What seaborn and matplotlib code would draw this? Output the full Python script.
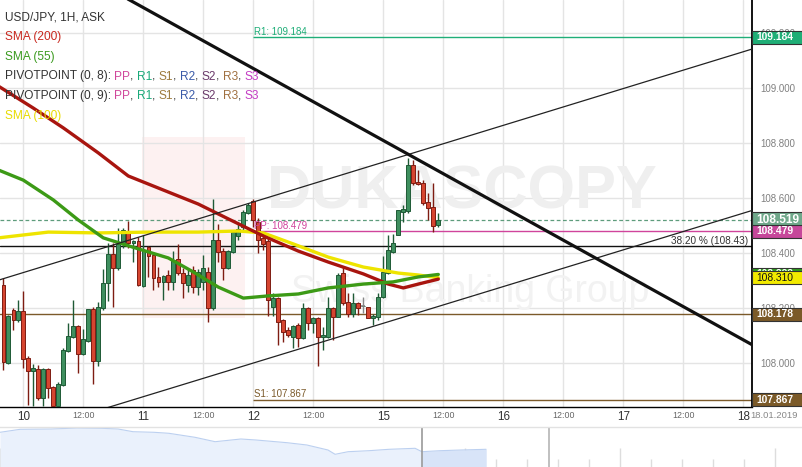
import numpy as np
import seaborn as sns
import matplotlib.pyplot as plt
from matplotlib.patches import Rectangle
from matplotlib.transforms import blended_transform_factory
from matplotlib.ticker import MultipleLocator

# --- Data: USD/JPY 1H candles (bar 0 = first visible bar) ---
bar_open = [108.284, 108.000, 108.193, 108.156, 108.189, 108.018, 107.971, 107.978, 107.873, 107.978,
            107.913, 107.844, 107.920, 108.044, 108.095, 108.135, 108.033, 108.080, 108.196, 108.007,
            108.200, 108.291, 108.396, 108.345, 108.436, 108.480, 108.436, 108.444, 108.280, 108.422,
            108.393, 108.313, 108.295, 108.320, 108.295, 108.378, 108.327, 108.284, 108.338, 108.276,
            108.295, 108.331, 108.200, 108.447, 108.407, 108.345, 108.404, 108.462, 108.495, 108.545,
            108.589, 108.513, 108.455, 108.444, 108.204, 108.236, 108.156, 108.120, 108.095, 108.138,
            108.091, 108.200, 108.145, 108.164, 108.095, 108.095, 108.200, 108.167, 108.327, 108.222,
            108.178, 108.218, 108.207, 108.204, 108.164, 108.167, 108.240, 108.327, 108.404, 108.465,
            108.549, 108.553, 108.720, 108.658, 108.655, 108.585, 108.567, 108.502]
bar_high = [108.309, 108.175, 108.200, 108.229, 108.262, 108.025, 107.996, 107.993, 107.982, 107.982,
            107.916, 107.931, 108.055, 108.145, 108.229, 108.138, 108.124, 108.196, 108.204, 108.222,
            108.342, 108.436, 108.436, 108.491, 108.491, 108.516, 108.447, 108.458, 108.465, 108.425,
            108.396, 108.349, 108.320, 108.338, 108.407, 108.433, 108.345, 108.342, 108.353, 108.342,
            108.393, 108.349, 108.596, 108.505, 108.418, 108.411, 108.484, 108.513, 108.556, 108.582,
            108.596, 108.527, 108.473, 108.455, 108.255, 108.240, 108.160, 108.131, 108.138, 108.145,
            108.218, 108.204, 108.167, 108.167, 108.131, 108.240, 108.204, 108.327, 108.353, 108.255,
            108.255, 108.222, 108.240, 108.204, 108.178, 108.255, 108.389, 108.465, 108.469, 108.556,
            108.575, 108.745, 108.738, 108.702, 108.665, 108.618, 108.655, 108.545]
bar_low = [107.975, 107.996, 108.120, 108.149, 107.982, 107.847, 107.844, 107.865, 107.844, 107.873,
           107.822, 107.836, 107.916, 108.040, 108.091, 107.964, 108.029, 108.076, 107.924, 107.989,
           108.193, 108.225, 108.204, 108.338, 108.418, 108.418, 108.367, 108.280, 108.276, 108.313,
           108.265, 108.276, 108.229, 108.265, 108.265, 108.320, 108.236, 108.258, 108.255, 108.247,
           108.265, 108.149, 108.193, 108.367, 108.302, 108.342, 108.400, 108.447, 108.484, 108.542,
           108.495, 108.400, 108.411, 108.171, 108.171, 108.065, 108.076, 108.095, 108.055, 108.058,
           108.087, 108.120, 108.109, 107.989, 108.047, 108.091, 108.084, 108.167, 108.211, 108.167,
           108.167, 108.175, 108.182, 108.164, 108.138, 108.156, 108.236, 108.324, 108.400, 108.465,
           108.513, 108.545, 108.647, 108.647, 108.575, 108.520, 108.476, 108.495]
bar_close = [108.004, 108.171, 108.156, 108.189, 108.015, 107.971, 107.982, 107.873, 107.978, 107.909,
             107.844, 107.924, 108.047, 108.098, 108.135, 108.033, 108.087, 108.196, 108.007, 108.204,
             108.291, 108.396, 108.345, 108.433, 108.484, 108.436, 108.444, 108.284, 108.411, 108.389,
             108.309, 108.295, 108.316, 108.295, 108.375, 108.327, 108.291, 108.320, 108.276, 108.331,
             108.345, 108.200, 108.447, 108.404, 108.345, 108.407, 108.476, 108.487, 108.549, 108.575,
             108.520, 108.447, 108.433, 108.229, 108.236, 108.149, 108.113, 108.102, 108.135, 108.091,
             108.200, 108.145, 108.164, 108.095, 108.102, 108.200, 108.167, 108.320, 108.218, 108.178,
             108.218, 108.200, 108.207, 108.164, 108.171, 108.240, 108.331, 108.411, 108.436, 108.556,
             108.560, 108.720, 108.655, 108.651, 108.582, 108.564, 108.498, 108.519]

# moving averages, read at a few bars
sma200_bar = [-1, 6, 12, 19, 25, 32, 39, 45, 52, 59, 65, 72, 77, 80, 83, 87]
sma200 = [109.007, 108.927, 108.855, 108.764, 108.680, 108.629, 108.578, 108.524, 108.462,
          108.407, 108.367, 108.324, 108.287, 108.273, 108.287, 108.305]
sma55_bar = [-1, 4, 10, 15, 20, 27, 33, 38, 43, 48, 53, 59, 65, 72, 78, 83, 87]
sma55 = [108.702, 108.665, 108.593, 108.520, 108.455, 108.415, 108.382, 108.331, 108.276,
         108.236, 108.244, 108.251, 108.273, 108.287, 108.295, 108.313, 108.322]
sma100_bar = [-1, 9, 19, 29, 39, 47, 52, 58, 65, 72, 79, 83, 87]
sma100 = [108.455, 108.476, 108.473, 108.476, 108.476, 108.480, 108.473, 108.433, 108.385,
          108.349, 108.327, 108.320, 108.310]

# drawn trend lines (bar, price)
trend_bar = [20, 150]
trend_price = [109.373, 108.064]
chan_up_bar = [-1, 150]
chan_up_price = [108.301, 109.143]
chan_lo_bar = [20, 150]
chan_lo_price = [107.833, 108.556]

# levels
pivot_names = ['R1', 'PP', 'S1']
pivot_values = [109.184, 108.479, 107.867]
pivot_start_bar = 50
prev_s1 = 108.178
fib_level = 108.424
fib_text = '38.20 % (108.43)'
last_price = 108.519
sma55_last = 108.322
sma100_last = 108.310

# time axis
tick_bar = [4, 16, 28, 40, 50, 62, 76, 88, 100, 112, 124, 136, 148]
tick_labels = ['10', '12:00', '11', '12:00', '12', '12:00', '15', '12:00', '16', '12:00', '17', '12:00', '18']
date_text = '18.01.2019'
price_ticks = [108.0, 108.2, 108.4, 108.6, 108.8, 109.0, 109.2]

# navigator overview (days, relative level)
nav_day = [0, 0.65, 1.65, 2.48, 3.29, 3.81, 4.29, 4.97, 5.45, 6.29, 6.94, 7.77, 8.26, 9.26, 9.90,
           10.58, 10.81, 11.23, 11.90, 12.55, 13.39, 13.61, 14.19, 14.87, 15.68]
nav_val = [34.7, 37.7, 38.0, 39.0, 38.7, 38.0, 35.3, 34.7, 33.7, 29.7, 25.3, 28.0, 27.0, 24.3, 22.0,
           17.0, 12.7, 15.3, 16.3, 17.7, 18.7, 15.3, 16.3, 17.0, 17.7]
nav_sel_start = 13.61
nav_window_end = 17.71

# --- Style ---
sns.set_theme(style="white")
plt.rcParams['font.family'] = ['Liberation Sans', 'DejaVu Sans']

W, H = 803, 467
fig = plt.figure(figsize=(W / 100, H / 100), dpi=100)
ax = fig.add_axes([0, 60 / H, 752 / W, 407 / H])
ax.set_xlim(-0.66, 149.74)
ax.set_ylim(107.84, 109.32)

# watermark
ax.add_patch(Rectangle((142 / 752, 1 - 318 / 407), 103 / 752, 181 / 407, transform=ax.transAxes,
                       color='#fdf1f1', zorder=0.5, lw=0))
ax.text(462 / 752, 1 - 193 / 407, 'DUKASCOPY', transform=ax.transAxes, ha='center', va='center',
        fontsize=44, fontweight='bold', color='#efefef', zorder=0.6)
ax.text(470 / 752, 1 - 292 / 407, 'Swiss Banking Group', transform=ax.transAxes, ha='center',
        va='center', fontsize=27, color='#f2f2f2', zorder=0.6)

# grid
ax.set_xticks(tick_bar, tick_labels)
ax.set_yticks(price_ticks)
ax.grid(True, color='#e4e4e4', lw=1)
ax.set_axisbelow(True)

# horizontal levels
ax.axhline(prev_s1, color='#7b5a2a', lw=1, zorder=2)
ax.axhline(fib_level, color='#111111', lw=1, zorder=2)
ax.axhline(last_price, color='#5e9c7c', lw=0.9, ls=(0, (3, 2)), zorder=2)
pivot_colors = ['#1fae78', '#d0449c', '#7b5a2a']
ax.hlines(pivot_values, pivot_start_bar, 149.74, colors=pivot_colors, lw=1, zorder=2)
for name, val, col in zip(pivot_names, pivot_values, pivot_colors):
    ax.text(pivot_start_bar + 0.1, val + 0.002, f'{name}: {val:.3f}', color=col, fontsize=7,
            ha='left', va='bottom', zorder=8)
ax.text(148.9, fib_level + 0.003, fib_text, color='#333333', fontsize=7.2, ha='right', va='bottom', zorder=8)

# candles
o = np.array(bar_open); hi = np.array(bar_high); lo = np.array(bar_low); c = np.array(bar_close)
bars = np.arange(len(o))
up = c >= o
wick_col = np.where(c > o, '#1f5a36', np.where(c < o, '#7e1c12', '#888888'))
fill_col = np.where(up, '#3f8f5f', '#d64530')
edge_col = np.where(up, '#1f5a36', '#7e1c12')
ax.vlines(bars, lo, hi, colors=wick_col, lw=1, zorder=3)
ax.bar(bars, np.abs(c - o), bottom=np.minimum(o, c), width=0.72, color=fill_col,
       edgecolor=edge_col, linewidth=0.7, zorder=4)
flat = c == o
ax.hlines(c[flat], bars[flat] - 0.36, bars[flat] + 0.36, colors='#888888', lw=1.2, zorder=4)

# moving averages
sns.lineplot(x=sma100_bar, y=sma100, ax=ax, color='#eee400', lw=2.4, zorder=5)
sns.lineplot(x=sma200_bar, y=sma200, ax=ax, color='#a8150f', lw=2.4, zorder=5)
sns.lineplot(x=sma55_bar, y=sma55, ax=ax, color='#3c9a16', lw=2.4, zorder=5)

# trend lines
ax.plot(chan_up_bar, chan_up_price, color='#222222', lw=0.9, zorder=6)
ax.plot(chan_lo_bar, chan_lo_price, color='#222222', lw=0.9, zorder=6)
ax.plot(trend_bar, trend_price, color='#111111', lw=2.3, zorder=6)

# axes styling
for s in ['left', 'top']:
    ax.spines[s].set_visible(False)
ax.spines['right'].set_color('black'); ax.spines['right'].set_linewidth(1.3)
ax.spines['bottom'].set_color('black'); ax.spines['bottom'].set_linewidth(1.0)
ax.yaxis.tick_right()
ax.yaxis.set_major_formatter('{x:.3f}')
ax.tick_params(axis='y', length=0, pad=6, labelsize=7, labelcolor='#808080')
ax.tick_params(axis='x', length=0, pad=3)
for lab in ax.get_xticklabels():
    if ':' in lab.get_text():
        lab.set_fontsize(6.4); lab.set_color('#666666')
    else:
        lab.set_fontsize(8.4); lab.set_color('#333333')
fig.text(774 / W, 1 - 416 / H, date_text, ha='center', va='center', fontsize=6.8, color='#888888')

# price boxes on the right axis
tr = blended_transform_factory(ax.transAxes, ax.transData)
boxes = [
    (pivot_values[0], '#1fae76', 'white', 7.4, 0.0236),
    (last_price, '#6fa88a', 'white', 8.6, 0.029),
    (pivot_values[1], '#c6479a', 'white', 7.4, 0.0236),
    (sma55_last, '#2f9a1e', 'white', 7.4, 0.0236),
    (sma100_last, '#f2ea00', '#111111', 7.4, 0.0236),
    (prev_s1, '#7b5a28', 'white', 7.4, 0.0236),
    (pivot_values[2], '#7b5a28', 'white', 7.4, 0.0236),
]
for i, (val, fc, tc, fs, hh) in enumerate(boxes):
    ax.add_patch(Rectangle((1.0, val - hh), 51 / 752, 2 * hh, transform=tr, fc=fc, ec='#333333',
                           lw=0.8, clip_on=False, zorder=10 + i))
    ax.text(756 / 752, val, f'{val:.3f}', transform=tr, ha='left', va='center', fontsize=fs,
            color=tc, fontweight='bold' if tc == 'white' else 'normal', zorder=10.5 + i, clip_on=False)

# legend text block (top-left)
renderer = fig.canvas.get_renderer()


def put_pieces(x_px, base_px, pieces, size=8.6):
    for text, color, gap in pieces:
        t = fig.text(x_px / W, 1 - base_px / H, text, color=color, fontsize=size, ha='left', va='baseline')
        bb = t.get_window_extent(renderer=renderer)
        x_px = bb.x1 + gap


sp = 3.3
pp_names = ['PP', 'R1', 'S1', 'R2', 'S2', 'R3', 'S3']
pp_colors = ['#d0479b', '#1aaa7a', '#9c7a3c', '#3a5aa8', '#6b3b6b', '#a07040', '#c43cc4']
put_pieces(5, 20.7, [('USD/JPY, 1H, ASK', '#333333', 0)])
put_pieces(5, 40.4, [('SMA (200)', '#c8281e', 0)])
put_pieces(5, 60.0, [('SMA (55)', '#3a9a1e', 0)])
for base, period in [(79.5, 8), (99.2, 9)]:
    pieces = [(f'PIVOTPOINT (0, {period}):', '#333333', sp)]
    for k, (nm, col) in enumerate(zip(pp_names, pp_colors)):
        pieces.append((nm, col, 0))
        if k < len(pp_names) - 1:
            pieces.append((',', '#333333', sp))
    put_pieces(5, base, pieces)
put_pieces(5, 118.8, [('SMA (100)', '#e8dc00', 0)])

# navigator
ax2 = fig.add_axes([0, 0, 1, 40 / H])
nd = np.array(nav_day); nv = np.array(nav_val)
ax2.fill_between(nd, nv, 0, color='#eaf1fc', lw=0)
sel = nd >= nav_sel_start
ax2.fill_between(nd[sel], nv[sel], 0, color='#d8e4f8', lw=0)
sns.lineplot(x=nav_day, y=nav_val, ax=ax2, color='#bcd0f0', lw=0.8)
ax2.axvline(nav_sel_start, color='#9a9a9a', lw=1.2)
ax2.axvline(nav_window_end, color='#b5b5b5', lw=1.2)
ax2.set_xlim(0, W / 31)
ax2.set_ylim(0, 40)
ax2.xaxis.set_major_locator(MultipleLocator(5))
ax2.xaxis.set_minor_locator(MultipleLocator(1))
ax2.tick_params(axis='x', which='major', direction='in', length=14, color='#dddddd', width=1,
                bottom=True, labelbottom=False)
ax2.tick_params(axis='x', which='minor', direction='in', length=6, color='#dddddd', width=1, bottom=True)
ax2.set_yticks([])
ax2.set_xlabel(''); ax2.set_ylabel('')
for s in ['left', 'right', 'bottom']:
    ax2.spines[s].set_visible(False)
ax2.spines['top'].set_color('#e2e2e2')
ax2.spines['top'].set_linewidth(1)

ax.set_xlabel(''); ax.set_ylabel('')
fig.savefig('out.png', dpi=100)
